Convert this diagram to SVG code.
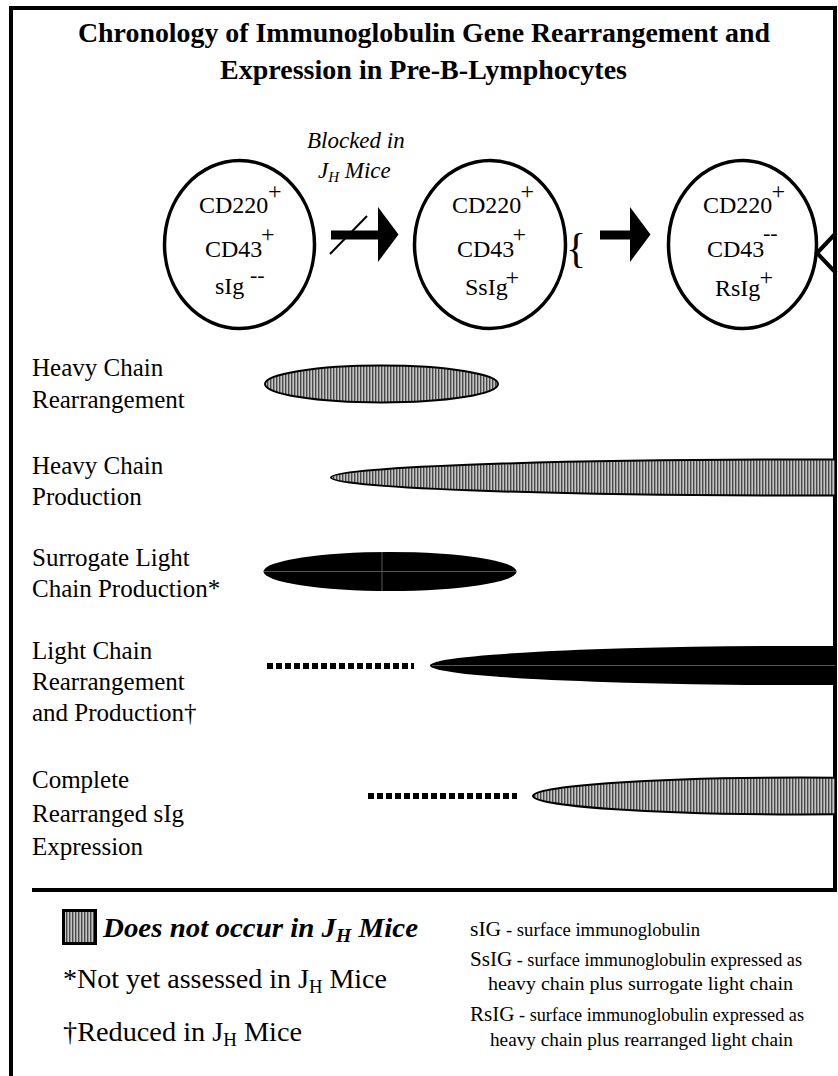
<svg xmlns="http://www.w3.org/2000/svg" width="838" height="1076" viewBox="0 0 838 1076">
<defs>
<style>
text{font-family:"Liberation Serif","Times New Roman",serif;fill:#000}
.title{font-size:28px;font-weight:bold}
.cell{font-size:24px}
.lbl{font-size:25px}
.blk{font-size:23px;font-style:italic}
.cellshape{fill:#fff;stroke:#000;stroke-width:3.5}
.hatch{fill:url(#stripes);stroke:#000;stroke-width:2}
.solid{fill:#000}
.dots{stroke:#000;stroke-width:6;stroke-dasharray:6 3;fill:none}
.border{stroke:#000;stroke-width:4;fill:none}
.artifact{stroke:#6a6a6a;stroke-width:0.8}
.leg{font-size:27px}
.abbr{font-size:22px}
.def{font-size:19px}
</style>
<pattern id="stripes" patternUnits="userSpaceOnUse" width="3" height="10">
<rect width="3" height="10" fill="#c4c4c4"/>
<rect width="1.4" height="10" fill="#4a4a4a"/>
</pattern>
<clipPath id="clipR"><rect x="0" y="0" width="835" height="1076"/></clipPath>
</defs>
<rect width="838" height="1076" fill="#fff"/>

<g id="frame">
<path class="border" d="M11,1076 V8 H835 V891"/>
<line x1="32" y1="890" x2="837" y2="890" stroke="#000" stroke-width="4"/>
</g>

<g id="title">
<text class="title" x="78" y="42" textLength="692" lengthAdjust="spacingAndGlyphs">Chronology of Immunoglobulin Gene Rearrangement and</text>
<text class="title" x="220" y="79" textLength="407" lengthAdjust="spacingAndGlyphs">Expression in Pre-B-Lymphocytes</text>
</g>

<g id="cell1">
<ellipse class="cellshape" cx="239.5" cy="244.5" rx="75" ry="84"/>
<text class="cell" x="199" y="213">CD220</text>
<text class="cell" x="268" y="198.5">+</text>
<text class="cell" x="205" y="257">CD43</text>
<text class="cell" x="261" y="242">+</text>
<text class="cell" x="215" y="294">sIg</text>
<text class="cell" x="250" y="282" style="font-size:22px">--</text>
</g>

<g id="cell2">
<ellipse class="cellshape" cx="490" cy="244.5" rx="75.5" ry="84"/>
<text class="cell" x="452" y="213">CD220</text>
<text class="cell" x="520.5" y="198.5">+</text>
<text class="cell" x="457" y="257">CD43</text>
<text class="cell" x="512.5" y="242">+</text>
<text class="cell" x="465" y="295">SsIg</text>
<text class="cell" x="505.5" y="284.5">+</text>
<text x="566" y="261.5" style="font-size:42px">{</text>
</g>

<g id="cell3">
<ellipse class="cellshape" cx="742.5" cy="244.5" rx="74" ry="84"/>
<text class="cell" x="703" y="213">CD220</text>
<text class="cell" x="771.5" y="198.5">+</text>
<text class="cell" x="707" y="257">CD43</text>
<text class="cell" x="763" y="240" style="font-size:22px">--</text>
<text class="cell" x="715" y="296">RsIg</text>
<text class="cell" x="759.5" y="284.5">+</text>
<polyline points="836,233 817,253 836,273" fill="none" stroke="#000" stroke-width="4"/>
</g>

<g id="connectors">
<g id="arrow1">
<rect x="331" y="230.5" width="49" height="9" fill="#000"/>
<polygon points="378,207 398.5,234.5 378,262" fill="#000"/>
<line x1="330" y1="254" x2="367" y2="216" stroke="#000" stroke-width="2"/>
<text class="blk" x="307" y="148">Blocked in</text>
<text class="blk" x="318" y="178">J<tspan dy="4" style="font-size:15px">H</tspan><tspan dy="-4"> Mice</tspan></text>
</g>
<g id="arrow2">
<rect x="600" y="230.5" width="32" height="9" fill="#000"/>
<polygon points="630,207 650.5,234.5 630,262" fill="#000"/>
</g>
</g>

<g id="row-hc-rearrangement">
<text class="lbl" x="32" y="376">Heavy Chain</text>
<text class="lbl" x="32" y="408">Rearrangement</text>
<ellipse class="hatch" cx="381.5" cy="384" rx="116.5" ry="18.5"/>
</g>

<g id="row-hc-production">
<text class="lbl" x="32" y="474">Heavy Chain</text>
<text class="lbl" x="32" y="505">Production</text>
<ellipse class="hatch" cx="800" cy="477.5" rx="469" ry="18" clip-path="url(#clipR)"/>
</g>

<g id="row-surrogate">
<text class="lbl" x="32" y="566">Surrogate Light</text>
<text class="lbl" x="32" y="597">Chain Production*</text>
<ellipse class="solid" cx="390" cy="571.5" rx="126.5" ry="19.5"/>
<line class="artifact" x1="264" y1="571.5" x2="516" y2="571.5"/>
<line class="artifact" x1="382" y1="552" x2="382" y2="591"/>
</g>

<g id="row-light-chain">
<text class="lbl" x="32" y="659">Light Chain</text>
<text class="lbl" x="32" y="690">Rearrangement</text>
<text class="lbl" x="32" y="721">and Production†</text>
<line class="dots" x1="267" y1="666" x2="414" y2="666"/>
<ellipse class="solid" cx="800" cy="665.5" rx="370" ry="19.5" clip-path="url(#clipR)"/>
<line class="artifact" x1="432" y1="665.5" x2="835" y2="665.5"/>
</g>

<g id="row-complete">
<text class="lbl" x="32" y="788">Complete</text>
<text class="lbl" x="32" y="822">Rearranged sIg</text>
<text class="lbl" x="32" y="855">Expression</text>
<line class="dots" x1="368" y1="796" x2="517" y2="796"/>
<ellipse class="hatch" cx="800" cy="796" rx="267" ry="18.5" clip-path="url(#clipR)"/>
</g>

<g id="legend">
<rect x="63.5" y="910.5" width="32" height="33" fill="url(#stripes)" stroke="#000" stroke-width="3"/>
<text x="103" y="937" textLength="315" lengthAdjust="spacingAndGlyphs" style="font-size:28px;font-weight:bold;font-style:italic">Does not occur in J<tspan dy="5" style="font-size:19px">H</tspan><tspan dy="-5"> Mice</tspan></text>
<text class="leg" x="63" y="988" textLength="324" lengthAdjust="spacingAndGlyphs">*Not yet assessed in J<tspan dy="5" style="font-size:18px">H</tspan><tspan dy="-5"> Mice</tspan></text>
<text class="leg" x="63" y="1041" textLength="239" lengthAdjust="spacingAndGlyphs">†Reduced in J<tspan dy="5" style="font-size:18px">H</tspan><tspan dy="-5"> Mice</tspan></text>
<text x="470" y="936" textLength="230" lengthAdjust="spacingAndGlyphs"><tspan class="abbr">sIG</tspan><tspan class="def"> - surface immunoglobulin</tspan></text>
<text x="470" y="966" textLength="332" lengthAdjust="spacingAndGlyphs"><tspan class="abbr">SsIG</tspan><tspan class="def"> - surface immunoglobulin expressed as</tspan></text>
<text class="def" x="488" y="990" textLength="305" lengthAdjust="spacingAndGlyphs">heavy chain plus surrogate light chain</text>
<text x="470" y="1021" textLength="334" lengthAdjust="spacingAndGlyphs"><tspan class="abbr">RsIG</tspan><tspan class="def"> - surface immunoglobulin expressed as</tspan></text>
<text class="def" x="490" y="1046" textLength="303" lengthAdjust="spacingAndGlyphs">heavy chain plus rearranged light chain</text>
</g>
</svg>
